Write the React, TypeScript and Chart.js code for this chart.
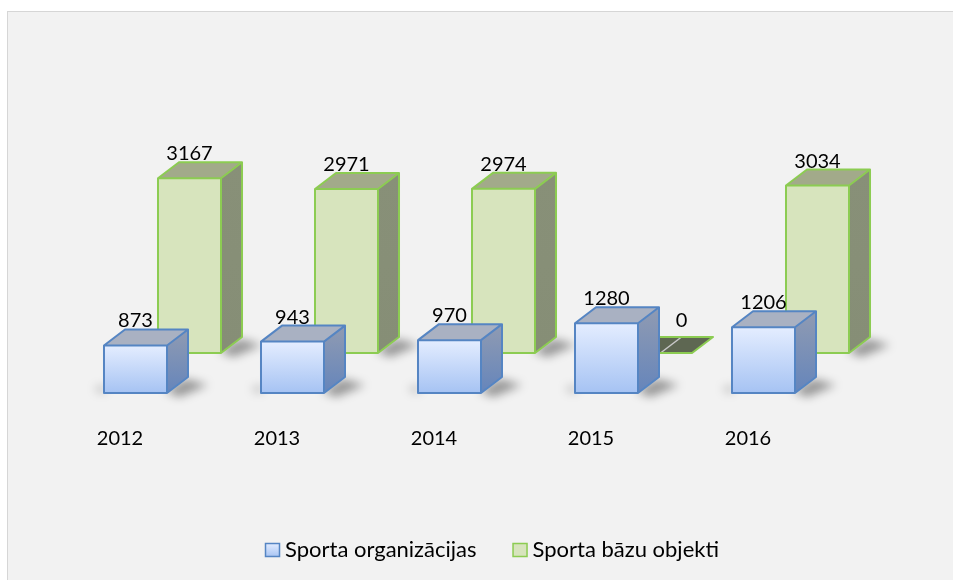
import React, { useEffect, useRef } from "react";
import { Chart, registerables } from "chart.js";

Chart.register(...registerables);

const categories = ["2012", "2013", "2014", "2015", "2016"];
const sportaOrganizacijas = [873, 943, 970, 1280, 1206];
const sportaBazuObjekti = [3167, 2971, 2974, 0, 3034];
const seriesLabels = ["Sporta organizācijas", "Sporta bāzu objekti"];

const DEPTH_X = 21;
const DEPTH_Y = -16;
const FONT_FAMILY = "Lato, 'Open Sans', sans-serif";

type PrismStyle = {
  frontTop: string;
  frontBottom: string;
  top: string;
  sideTop: string;
  sideBottom: string;
  border: string;
  borderWidth: number;
  flat: string;
  flatLine: string;
};

const blueStyle: PrismStyle = {
  frontTop: "#e4edff",
  frontBottom: "#a6c3f3",
  top: "#a9b1c2",
  sideTop: "#909bb2",
  sideBottom: "#6585bb",
  border: "#5585c3",
  borderWidth: 2,
  flat: "#a9b1c2",
  flatLine: "#d0d0d0",
};

const greenStyle: PrismStyle = {
  frontTop: "#d7e4bd",
  frontBottom: "#d7e4bd",
  top: "#a2aa8a",
  sideTop: "#889078",
  sideBottom: "#868e76",
  border: "#8ccc52",
  borderWidth: 2,
  flat: "#5e6752",
  flatLine: "#c8c8c8",
};

function drawShadow(ctx: CanvasRenderingContext2D, l: number, r: number, bottom: number) {
  ctx.save();
  ctx.filter = "blur(5px)";
  ctx.fillStyle = "rgba(0,0,0,0.38)";
  ctx.beginPath();
  ctx.moveTo(r - 2, bottom - 2);
  ctx.lineTo(r + DEPTH_X - 2, bottom + DEPTH_Y + 2);
  ctx.lineTo(r + DEPTH_X + 20, bottom + DEPTH_Y + 8);
  ctx.lineTo(r + 12, bottom + 4);
  ctx.closePath();
  ctx.fill();
  ctx.beginPath();
  ctx.moveTo(l - 10, bottom - 6);
  ctx.lineTo(l + 2, bottom - 8);
  ctx.lineTo(l + 2, bottom);
  ctx.lineTo(l - 6, bottom);
  ctx.closePath();
  ctx.fillStyle = "rgba(0,0,0,0.18)";
  ctx.fill();
  ctx.restore();
}

function drawPrism(
  ctx: CanvasRenderingContext2D,
  l: number,
  r: number,
  top: number,
  bottom: number,
  s: PrismStyle
) {
  const dx = DEPTH_X;
  const dy = DEPTH_Y;
  ctx.save();
  ctx.lineJoin = "round";
  ctx.lineWidth = s.borderWidth;
  ctx.strokeStyle = s.border;

  if (bottom - top < 0.5) {
    const poly = () => {
      ctx.beginPath();
      ctx.moveTo(l, bottom);
      ctx.lineTo(l + dx, bottom + dy);
      ctx.lineTo(r + dx, bottom + dy);
      ctx.lineTo(r, bottom);
      ctx.closePath();
    };
    poly();
    ctx.fillStyle = s.flat;
    ctx.fill();
    const mx = (l + r) / 2;
    ctx.beginPath();
    ctx.moveTo(mx, bottom);
    ctx.lineTo(mx + dx, bottom + dy);
    ctx.strokeStyle = s.flatLine;
    ctx.lineWidth = 1.5;
    ctx.stroke();
    ctx.strokeStyle = s.border;
    ctx.lineWidth = s.borderWidth;
    poly();
    ctx.stroke();
    ctx.restore();
    return;
  }

  // side face
  const sideGrad = ctx.createLinearGradient(0, top + dy, 0, bottom);
  sideGrad.addColorStop(0, s.sideTop);
  sideGrad.addColorStop(1, s.sideBottom);
  ctx.beginPath();
  ctx.moveTo(r, top);
  ctx.lineTo(r + dx, top + dy);
  ctx.lineTo(r + dx, bottom + dy);
  ctx.lineTo(r, bottom);
  ctx.closePath();
  ctx.fillStyle = sideGrad;
  ctx.fill();

  // top face
  ctx.beginPath();
  ctx.moveTo(l, top);
  ctx.lineTo(l + dx, top + dy);
  ctx.lineTo(r + dx, top + dy);
  ctx.lineTo(r, top);
  ctx.closePath();
  ctx.fillStyle = s.top;
  ctx.fill();

  // front face
  const frontGrad = ctx.createLinearGradient(0, top, 0, bottom);
  frontGrad.addColorStop(0, s.frontTop);
  frontGrad.addColorStop(1, s.frontBottom);
  ctx.fillStyle = frontGrad;
  ctx.fillRect(l, top, r - l, bottom - top);

  // outlines
  ctx.beginPath();
  ctx.rect(l, top, r - l, bottom - top);
  ctx.moveTo(l, top);
  ctx.lineTo(l + dx, top + dy);
  ctx.lineTo(r + dx, top + dy);
  ctx.lineTo(r, top);
  ctx.moveTo(r + dx, top + dy);
  ctx.lineTo(r + dx, bottom + dy);
  ctx.lineTo(r, bottom);
  ctx.stroke();
  ctx.restore();
}

const prismPlugin = {
  id: "prism3d",
  afterDatasetsDraw(chart: any) {
    const ctx: CanvasRenderingContext2D = chart.ctx;
    const order = [
      { index: 1, style: greenStyle },
      { index: 0, style: blueStyle },
    ];
    const labelItems: { x: number; y: number; text: string; zero: boolean }[] = [];

    order.forEach(({ index, style }) => {
      const meta = chart.getDatasetMeta(index);
      const values = chart.data.datasets[index].data as number[];
      const bars = meta.data.map((bar: any) => bar.getProps(["x", "y", "base", "width"], true));
      bars.forEach((b: any) => {
        const l = b.x - b.width / 2;
        const r = b.x + b.width / 2;
        if (Math.abs(b.base - b.y) > 0.5) drawShadow(ctx, l, r, b.base);
      });
      bars.forEach((b: any, i: number) => {
        const l = b.x - b.width / 2;
        const r = b.x + b.width / 2;
        const top = Math.min(b.y, b.base);
        drawPrism(ctx, l, r, top, b.base, style);
        const zero = values[i] === 0;
        labelItems.push({
          x: b.x + (zero ? DEPTH_X : 0),
          y: top + DEPTH_Y - (zero ? 10 : 2),
          text: String(values[i]),
          zero,
        });
      });
    });

    ctx.save();
    ctx.fillStyle = "#000000";
    ctx.font = `20px ${FONT_FAMILY}`;
    ctx.textAlign = "center";
    ctx.textBaseline = "alphabetic";
    labelItems.forEach((it) => ctx.fillText(it.text, it.x, it.y));

    // category labels
    const xScale = chart.scales.x;
    const labelY = chart.chartArea.bottom + 52;
    (chart.data.labels as string[]).forEach((lab, i) => {
      const cx = xScale.getPixelForValue(i) - 42.5;
      ctx.fillText(lab, cx, labelY);
    });

    // legend
    ctx.font = `22px ${FONT_FAMILY}`;
    ctx.textAlign = "left";
    const box = 15;
    const gapBoxText = 5;
    const gapItems = 36;
    const items = chart.data.datasets.map((d: any, i: number) => ({
      text: d.label as string,
      style: i === 0 ? blueStyle : greenStyle,
      w: box + gapBoxText + ctx.measureText(d.label).width,
    }));
    const total = items.reduce((a: number, it: any) => a + it.w, 0) + gapItems * (items.length - 1);
    let lx = 484 - total / 2;
    const baseY = chart.chartArea.bottom + 164;
    items.forEach((it: any) => {
      const g = ctx.createLinearGradient(0, baseY - 14, 0, baseY);
      g.addColorStop(0, it.style.frontTop);
      g.addColorStop(1, it.style.frontBottom);
      ctx.fillStyle = g;
      ctx.fillRect(lx + 0.5, baseY - 13.5, box - 1, box - 2);
      ctx.strokeStyle = it.style.border;
      ctx.lineWidth = 1.5;
      ctx.strokeRect(lx + 0.5, baseY - 13.5, box - 1, box - 2);
      ctx.fillStyle = "#000000";
      ctx.fillText(it.text, lx + box + gapBoxText, baseY);
      lx += it.w + gapItems;
    });
    ctx.restore();
  },
};

export default function App() {
  const ref = useRef<HTMLCanvasElement>(null);

  useEffect(() => {
    const prevOverflow = document.body.style.overflow;
    document.body.style.overflow = "hidden";
    const canvas = ref.current;
    if (!canvas) return;
    const chart = new Chart(canvas, {
      type: "bar",
      data: {
        labels: categories,
        datasets: [
          {
            label: seriesLabels[0],
            data: sportaOrganizacijas,
            yAxisID: "y",
            backgroundColor: "rgba(0,0,0,0)",
            borderWidth: 0,
            categoryPercentage: 0.688,
            barPercentage: 1.1667,
          },
          {
            label: seriesLabels[1],
            data: sportaBazuObjekti,
            yAxisID: "y2",
            backgroundColor: "rgba(0,0,0,0)",
            borderWidth: 0,
            categoryPercentage: 0.688,
            barPercentage: 1.1667,
          },
        ],
      },
      options: {
        responsive: false,
        animation: false,
        devicePixelRatio: 1,
        layout: { padding: { top: 40, bottom: 187, left: 76, right: 84 } },
        plugins: {
          legend: { display: false },
          tooltip: { enabled: false },
        },
        scales: {
          x: { type: "category", display: false, offset: true },
          y: { display: false, min: 0, max: 6257 },
          y2: { display: false, min: -725, max: 5453 },
        },
      },
      plugins: [prismPlugin],
    });
    return () => {
      chart.destroy();
      document.body.style.overflow = prevOverflow;
    };
  }, []);

  return (
    <div
      style={{
        position: "absolute",
        left: 7,
        top: 11,
        width: 946,
        height: 569,
        boxSizing: "border-box",
        borderTop: "1px solid #d6d6d6",
        borderLeft: "1px solid #d6d6d6",
        background: "#f2f2f2",
        overflow: "hidden",
      }}
    >
      <canvas ref={ref} width={945} height={568} style={{ display: "block", width: 945, height: 568 }} />
    </div>
  );
}
